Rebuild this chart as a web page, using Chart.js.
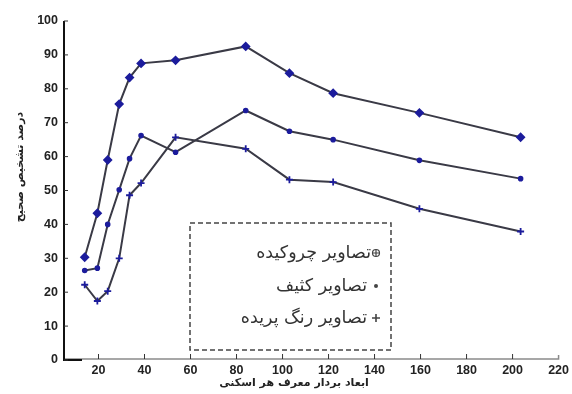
<!DOCTYPE html>
<html>
<head>
<meta charset="utf-8">
<script src="https://cdn.jsdelivr.net/npm/chart.js@4"></script>
<style>
  html, body { margin: 0; padding: 0; background: #fff; }
  #wrap { width: 572px; height: 394px; }
</style>
</head>
<body>
<div id="wrap"><canvas id="c" width="572" height="394"></canvas></div>
<script>
// ابعاد بردار (محور افقی)
const xValues = [14, 19.5, 24, 29, 33.5, 38.5, 53.5, 84, 103, 122, 159.5, 203.5];
// درصد تشخیص صحیح برای هر سری
const wrinkled = [30.3, 43.3, 59, 75.5, 83.3, 87.5, 88.4, 92.5, 84.6, 78.7, 72.9, 65.7];
const dirty = [26.4, 27.1, 40, 50.2, 59.4, 66.2, 61.3, 73.6, 67.5, 65, 58.9, 53.5];
const faded = [22.2, 17.4, 20.3, 30, 48.6, 52.2, 65.7, 62.3, 53.2, 52.5, 44.6, 37.9];
const seriesNames = ['تصاویر چروکیده', 'تصاویر کثیف', 'تصاویر رنگ پریده'];
const xTicks = [20, 40, 60, 80, 100, 120, 140, 160, 180, 200, 220];
const yTicks = [0, 10, 20, 30, 40, 50, 60, 70, 80, 90, 100];
const xTitle = 'ابعاد بردار معرف هر اسکنی';
const yTitle = 'درصد تشخیص صحیح';

const LINE = '#3a3a46';
const MARK = '#1c1c9c';
const TICK_FONT = { family: '"Liberation Sans", Arial', size: 12.5, weight: 'bold' };

function toPoints(ys) {
  return ys.map((y, i) => ({ x: xValues[i], y: y }));
}

// محورها، تیک‌های رو به داخل، عنوان‌ها و راهنمای خط‌چین
const decor = {
  id: 'decor',
  afterDraw(chart) {
    const ctx = chart.ctx;
    const a = chart.chartArea;
    const xs = chart.scales.x;
    const ys = chart.scales.y;
    ctx.save();

    // x axis (grey) and y axis (black)
    ctx.strokeStyle = '#8a8a8a';
    ctx.lineWidth = 1.5;
    ctx.beginPath();
    ctx.moveTo(a.left, a.bottom - 1);
    ctx.lineTo(a.right, a.bottom - 1);
    ctx.lineTo(a.right, a.bottom - 5);
    ctx.stroke();
    ctx.strokeStyle = '#111';
    ctx.lineWidth = 2;
    ctx.beginPath();
    ctx.moveTo(a.left, a.top);
    ctx.lineTo(a.left, a.bottom);
    ctx.lineTo(a.left + 18, a.bottom);
    ctx.stroke();

    ctx.lineWidth = 1;
    ctx.strokeStyle = '#333';
    ctx.beginPath();
    xTicks.slice(0, -1).forEach((v) => {
      const px = xs.getPixelForValue(v);
      ctx.moveTo(px, a.bottom - 1);
      ctx.lineTo(px, a.bottom - 6);
    });
    yTicks.forEach((v) => {
      const py = ys.getPixelForValue(v);
      ctx.moveTo(a.left, py);
      ctx.lineTo(a.left + 4, py);
    });
    ctx.stroke();

    // axis titles
    ctx.fillStyle = '#222';
    ctx.font = 'bold 11px "DejaVu Sans", sans-serif';
    ctx.textAlign = 'center';
    ctx.textBaseline = 'middle';
    ctx.fillText(xTitle, 294, 383);
    ctx.translate(20, 167);
    ctx.rotate(-Math.PI / 2);
    ctx.fillText(yTitle, 0, 0);
    ctx.setTransform(1, 0, 0, 1, 0, 0);

    // legend box
    const box = { l: 190, t: 223, r: 391, b: 350 };
    ctx.strokeStyle = '#444';
    ctx.lineWidth = 1.5;
    ctx.setLineDash([5, 3]);
    ctx.strokeRect(box.l, box.t, box.r - box.l, box.b - box.t);
    ctx.setLineDash([]);

    const rows = [253, 286, 318];
    const markers = ['circlePlus', 'dot', 'plus'];
    const gaps = [5, 9, 9];
    ctx.font = '17.5px "DejaVu Sans", sans-serif';
    ctx.textAlign = 'right';
    ctx.direction = 'rtl';
    rows.forEach((ry, i) => {
      const mx = 376;
      ctx.fillStyle = '#333';
      ctx.fillText(seriesNames[i], mx - gaps[i], ry);
      ctx.strokeStyle = '#444';
      ctx.fillStyle = '#444';
      ctx.lineWidth = 1.2;
      if (markers[i] === 'circlePlus') {
        ctx.beginPath();
        ctx.arc(mx, ry, 3.5, 0, Math.PI * 2);
        ctx.stroke();
        ctx.beginPath();
        ctx.moveTo(mx - 3.5, ry); ctx.lineTo(mx + 3.5, ry);
        ctx.moveTo(mx, ry - 3.5); ctx.lineTo(mx, ry + 3.5);
        ctx.stroke();
      } else if (markers[i] === 'dot') {
        ctx.beginPath();
        ctx.arc(mx, ry, 2, 0, Math.PI * 2);
        ctx.fill();
      } else {
        ctx.lineWidth = 1.6;
        ctx.beginPath();
        ctx.moveTo(mx - 4, ry); ctx.lineTo(mx + 4, ry);
        ctx.moveTo(mx, ry - 4); ctx.lineTo(mx, ry + 4);
        ctx.stroke();
      }
    });
    ctx.restore();
  },
};

new Chart(document.getElementById('c'), {
  type: 'line',
  data: {
    datasets: [
      {
        label: seriesNames[0],
        data: toPoints(wrinkled),
        borderColor: LINE,
        borderWidth: 2,
        pointStyle: 'rectRot',
        pointRadius: 3.5,
        pointBackgroundColor: MARK,
        pointBorderColor: MARK,
      },
      {
        label: seriesNames[1],
        data: toPoints(dirty),
        borderColor: LINE,
        borderWidth: 2,
        pointStyle: 'circle',
        pointRadius: 1.8,
        pointBackgroundColor: MARK,
        pointBorderColor: MARK,
      },
      {
        label: seriesNames[2],
        data: toPoints(faded),
        borderColor: LINE,
        borderWidth: 2,
        pointStyle: 'cross',
        pointRadius: 3.5,
        pointBorderWidth: 1.8,
        pointBackgroundColor: MARK,
        pointBorderColor: MARK,
      },
    ],
  },
  options: {
    responsive: false,
    animation: false,
    layout: { padding: { top: 21, right: 9, left: 0, bottom: 0 } },
    plugins: { legend: { display: false }, tooltip: { enabled: false } },
    scales: {
      x: {
        type: 'linear',
        min: 5,
        max: 220,
        afterFit: (s) => { s.height = 34; },
        afterBuildTicks: (s) => { s.ticks = xTicks.map((v) => ({ value: v })); },
        grid: { display: false, drawTicks: false },
        border: { display: false },
        ticks: { padding: 3, color: '#222', font: TICK_FONT },
      },
      y: {
        min: 0,
        max: 100,
        afterFit: (s) => { s.width = 64; },
        afterBuildTicks: (s) => { s.ticks = yTicks.map((v) => ({ value: v })); },
        grid: { display: false, drawTicks: false },
        border: { display: false },
        ticks: { padding: 6, color: '#222', font: TICK_FONT },
      },
    },
  },
  plugins: [decor],
});
</script>
</body>
</html>
